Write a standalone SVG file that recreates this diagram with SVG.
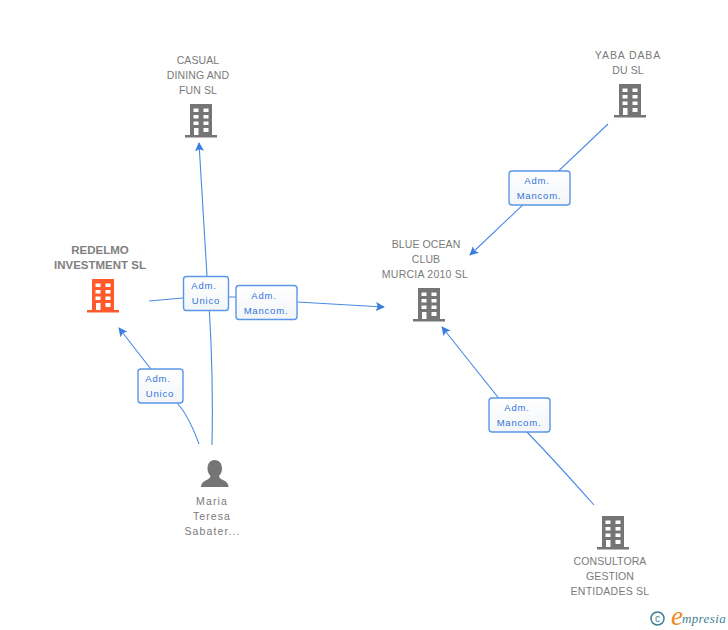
<svg xmlns="http://www.w3.org/2000/svg" width="728" height="630" viewBox="0 0 728 630">
<style>
text{font-family:"Liberation Sans",Arial,sans-serif;text-anchor:middle}
.n{font-size:10.5px;fill:#7a7a7a;letter-spacing:.1px}
.m{font-size:10.5px;fill:#7a7a7a;letter-spacing:1.1px}
.y{font-size:10.5px;fill:#7a7a7a;letter-spacing:.9px}
.b{font-weight:bold;font-size:11.500px;fill:#7f7f7f}
.l{font-size:9.5px;fill:#2f74dc;letter-spacing:.8px}
.e{fill:none;stroke:#4a8ae6;stroke-width:1.1;marker-end:url(#a)}
.box{fill:url(#g);stroke:#5b96e8;stroke-width:1.4}
.w{fill:#fff}
</style>
<defs>
<linearGradient id="g" x1="0" y1="0" x2="0" y2="1"><stop offset="0" stop-color="#fff"/><stop offset="1" stop-color="#f3f5f8"/></linearGradient>
<marker id="a" viewBox="0 0 10 10" refX="9" refY="5" markerWidth="9" markerHeight="9" markerUnits="userSpaceOnUse" orient="auto"><path d="M0,0L10,5L0,10L2,5Z" fill="#3a7fe0"/></marker>
<g id="bld">
<path d="M5,0H27V31H32V33.500H0V31H5Z"/>
<path class="w" d="M8.500,4.500h5v3.500h-5zM18.500,4.500h5v3.500h-5zM8.500,11h5v3.500h-5zM18.500,11h5v3.500h-5zM8.500,17.500h5v3.500h-5zM18.500,17.500h5v3.500h-5zM18.500,24h5v4h-5zM9,24h4.500v7h-4.500z"/>
</g>
</defs>
<rect width="728" height="630" fill="#fff"/>
<g id="connectors">
<path class="e" d="M212,445C213,400 212,340 207,276L199,143"/>
<path class="e" d="M199,444C192,425 186,413 178,404L119,328"/>
<path class="e" d="M149,301L183,298M229,297L236,297M297,302L384,307"/>
<path class="e" d="M608,124L470,255"/>
<path class="e" d="M594,505C570,478 545,450 520,425L442,327"/>
</g>
<g id="casual"><use href="#bld" x="185" y="104" fill="#757575"/><text class="n" x="198" y="64">CASUAL</text><text class="n" x="198" y="79">DINING AND</text><text class="n" x="198" y="94">FUN SL</text></g>
<g id="yaba"><use href="#bld" x="614" y="84" fill="#757575"/><text class="y" x="628" y="59">YABA DABA</text><text class="n" x="628" y="74">DU SL</text></g>
<g id="blue-ocean"><use href="#bld" x="413" y="288" fill="#757575"/><text class="n" x="426" y="248">BLUE OCEAN</text><text class="n" x="426" y="263">CLUB</text><text class="n" x="425" y="278" style="letter-spacing:.25px">MURCIA 2010 SL</text></g>
<g id="redelmo"><use href="#bld" x="87" y="279" fill="#ff5a2c"/><text class="b" x="100" y="254">REDELMO</text><text class="b" x="100" y="269">INVESTMENT SL</text></g>
<g id="consultora"><use href="#bld" x="597" y="516" fill="#757575"/><text class="n" x="610" y="565">CONSULTORA</text><text class="n" x="610" y="580">GESTION</text><text class="n" x="610" y="595" style="letter-spacing:.25px">ENTIDADES SL</text></g>
<g id="maria"><path fill="#757575" d="M214.500,460C219.500,460 222,464 222,468.500C222,472 220.500,474.500 219,476C219,478 221,479 224,480.500C227,482 228.500,484 228.500,487H201C201,484 202.500,482 205.500,480.500C208.500,479 210.500,478 210.500,476C209,474.500 207.500,472 207.500,468.500C207.500,464 210,460 214.500,460Z"/><text class="m" x="212" y="505">Maria</text><text class="m" x="212" y="520">Teresa</text><text class="m" x="212.500" y="535">Sabater...</text></g>
<g id="label-unico-1"><rect class="box" x="183.500" y="276.500" width="45" height="34" rx="3"/><text class="l" x="204" y="289">Adm.</text><text class="l" x="206" y="304">Unico</text></g>
<g id="label-mancom-1"><rect class="box" x="236" y="285.500" width="61" height="34" rx="3"/><text class="l" x="264" y="299">Adm.</text><text class="l" x="266" y="314">Mancom.</text></g>
<g id="label-unico-2"><rect class="box" x="138" y="369" width="45" height="34" rx="3"/><text class="l" x="158" y="382">Adm.</text><text class="l" x="160" y="397">Unico</text></g>
<g id="label-mancom-2"><rect class="box" x="509" y="171" width="61" height="34" rx="3"/><text class="l" x="537" y="184">Adm.</text><text class="l" x="539" y="199">Mancom.</text></g>
<g id="label-mancom-3"><rect class="box" x="489" y="398" width="61" height="34" rx="3"/><text class="l" x="517" y="411">Adm.</text><text class="l" x="519" y="426">Mancom.</text></g>
<g id="logo"><circle cx="657.500" cy="618.500" r="6.500" fill="none" stroke="#3f7f96" stroke-width="1.500"/><text x="657.500" y="622" style="font-size:10px;fill:#3f7f96">c</text>
<text x="677" y="625" style="font-family:'Liberation Serif',serif;font-style:italic;font-size:27px;fill:#f08a1e">e</text><text x="704" y="623" style="font-family:'Liberation Serif',serif;font-style:italic;font-size:13px;fill:#3f7f96;letter-spacing:.4px">mpresia</text></g>
</svg>
